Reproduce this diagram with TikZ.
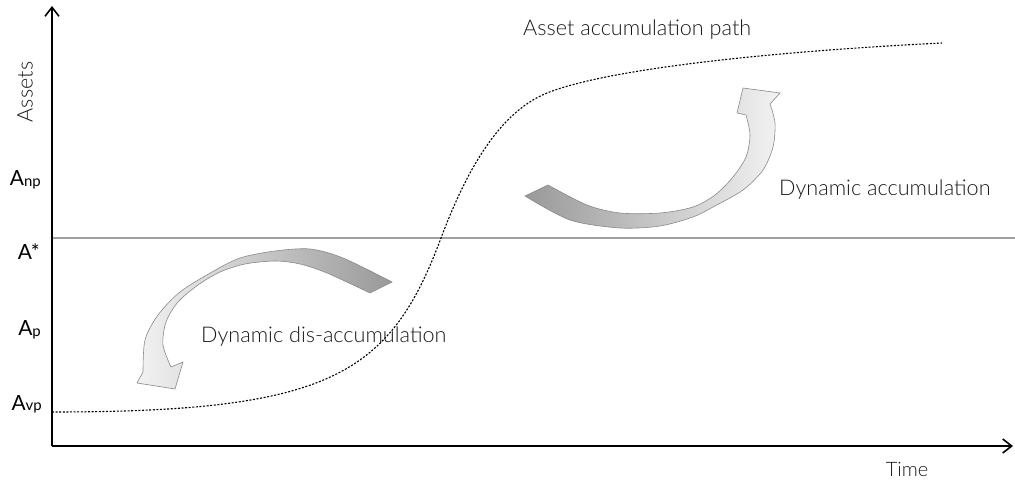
\documentclass[tikz,border=0pt]{standalone}
\usepackage{fontspec}
\setmainfont{Lato Light}
\newfontfamily\labfont{Lato}
\usetikzlibrary{arrows.meta}
\definecolor{txt}{HTML}{1A1A1A}
\definecolor{refline}{HTML}{A0A0A0}
\definecolor{edge}{HTML}{8A8A8A}
\tikzset{
  axis/.style={line width=1.6bp, -{Straight Barb[length=9bp,width=14bp,line width=1.6bp]}},
  levlab/.style={anchor=base east, inner sep=0pt, text=black, font=\labfont\fontsize{21}{21}\selectfont},
  caption/.style={inner sep=0pt, text=txt, font=\fontsize{21.7}{21.7}\selectfont},
  path/.style={line width=1.1bp, dash pattern=on 2bp off 1.6bp},
  bigarrow/.style={draw=edge, line width=0.6bp},
}
\newcommand{\sublab}[1]{\raisebox{-0.5bp}{\fontsize{15}{15}\selectfont #1}}
\begin{document}
\begin{tikzpicture}[x=1bp,y=-1bp]
\useasboundingbox (0,0) rectangle (1015,480);
\fill[white] (0,0) rectangle (1015,480);

% axes
\coordinate (O) at (52,446);
\coordinate (ytop) at (52,6);
\coordinate (xend) at (1013,446);
\coordinate (sl) at (52,238);
\coordinate (sr) at (1015,238);
\draw[refline, line width=1.4bp] (sl) -- (sr);
\draw[axis] (O) -- (ytop);
\draw[axis] (O) -- (xend);

% level labels
\node[levlab] (anp) at (41,186) {A\sublab{np}};
\node[levlab] (astar) at (40,260) {A*};
\node[levlab] (ap) at (41,336) {A\sublab{p}};
\node[levlab] (avp) at (42,410) {A\sublab{vp}};

% axis titles
\node[caption, rotate=90] (assets) at (25,92) {Assets};
\node[caption, anchor=base, font=\fontsize{20}{20}\selectfont] (time) at (907,476) {Time};

% asset accumulation path
\coordinate (p0) at (52,412);
\coordinate (p1) at (441,238);
\coordinate (p2) at (547,93);
\coordinate (p3) at (942,43);
\draw[path] (p0) .. controls (330,412) and (390,375) .. (p1)
  .. controls (463,180) and (495,114) .. (p2)
  .. controls (615,66) and (800,50) .. (p3);
\node[caption, anchor=base west] (pathlab) at (523,36) {Asset accumulation path};

% dis-accumulation arrow
\path[bigarrow, left color=gray!10, right color=gray!80]
  (370,293) -- (392,282)
  -- plot[smooth] coordinates {(392,282) (343,258) (310,249) (275,251) (240,258) (212,272) (180,292) (158,315) (145,340) (143,372)}
  -- (137,383) -- (175,389) -- (183,362) -- (171,367)
  -- plot[smooth] coordinates {(171,367) (163,345) (166,322) (178,302) (198,285) (220,272) (245,264) (275,261) (300,264) (327,273) (370,293)}
  -- cycle;
\node[caption, anchor=base west] (dislab) at (201,343) {Dynamic dis-accumulation};

% accumulation arrow
\path[bigarrow, left color=gray!80, right color=gray!10]
  (525,196) -- (548,185)
  -- plot[smooth] coordinates {(548,185) (587,205) (620,213) (660,213) (693,207) (715,195) (733,177) (746,157) (750,135) (746,115)}
  -- (737,113) -- (743,88) -- (780,93) -- (770,104)
  -- plot[smooth] coordinates {(770,104) (775,123) (773,147) (763,170) (743,190) (713,207) (693,217) (660,226) (620,228) (570,220) (525,196)}
  -- cycle;
\node[caption, anchor=base west] (acclab) at (779,196) {Dynamic accumulation};
\end{tikzpicture}
\end{document}
